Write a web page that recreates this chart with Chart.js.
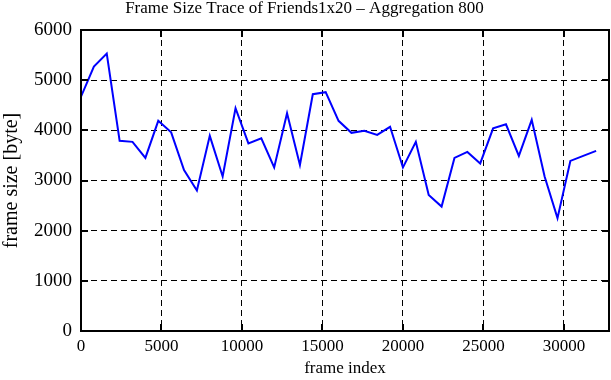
<!DOCTYPE html>
<html>
<head>
<meta charset="utf-8">
<script src="https://cdn.jsdelivr.net/npm/chart.js@4"></script>
<style>
  html, body { margin: 0; padding: 0; background: #fff; }
  #wrap { width: 611px; height: 380px; }
</style>
</head>
<body>
<div id="wrap"><canvas id="traceChart" width="611" height="380"></canvas></div>
<script>
const frameIndex = [
  0, 800, 1600, 2400, 3200, 4000, 4800, 5600, 6400, 7200,
  8000, 8800, 9600, 10400, 11200, 12000, 12800, 13600, 14400, 15200,
  16000, 16800, 17600, 18400, 19200, 20000, 20800, 21600, 22400, 23200,
  24000, 24800, 25600, 26400, 27200, 28000, 28800, 29600, 30400, 31200,
  32000
];
const frameSize = [
  4670, 5270, 5530, 3790, 3770, 3450, 4190, 3960, 3210, 2800,
  3890, 3080, 4440, 3740, 3840, 3260, 4340, 3310, 4720, 4760,
  4190, 3950, 3990, 3910, 4070, 3260, 3770, 2710, 2480, 3450,
  3570, 3340, 4040, 4120, 3490, 4210, 3080, 2250, 3390, 3490,
  3590
];
const xTicks = [0, 5000, 10000, 15000, 20000, 25000, 30000];
const yTicks = [0, 1000, 2000, 3000, 4000, 5000, 6000];

const serif = 'Liberation Serif, Times New Roman, serif';

// gnuplot-like box: solid frame with short inward ticks on all four sides
const framePlugin = {
  id: 'frame',
  afterDraw(chart) {
    const {ctx, chartArea: a, scales} = chart;
    const tick = 7;
    ctx.save();
    ctx.strokeStyle = '#000';
    ctx.lineWidth = 2;
    ctx.beginPath();
    scales.x.ticks.forEach(t => {
      const px = Math.round(scales.x.getPixelForValue(t.value));
      ctx.moveTo(px, a.bottom); ctx.lineTo(px, a.bottom - tick);
      ctx.moveTo(px, a.top); ctx.lineTo(px, a.top + tick);
    });
    scales.y.ticks.forEach(t => {
      const py = Math.round(scales.y.getPixelForValue(t.value));
      ctx.moveTo(a.left, py); ctx.lineTo(a.left + tick, py);
      ctx.moveTo(a.right, py); ctx.lineTo(a.right - tick, py);
    });
    ctx.stroke();
    ctx.strokeRect(a.left, a.top, a.right - a.left, a.bottom - a.top);
    ctx.restore();
  }
};

const traceData = {
  datasets: [{
    data: frameIndex.map((x, i) => ({x: x, y: frameSize[i]})),
    borderColor: '#0000ff',
    backgroundColor: '#0000ff',
    borderWidth: 2,
    pointRadius: 0,
    tension: 0,
    fill: false
  }]
};

const traceOptions = {
  responsive: false,
  animation: false,
  layout: {padding: {left: 0, right: 2, top: 0, bottom: 0}},
  plugins: {
    legend: {display: false},
    tooltip: {enabled: false},
    title: {
      display: true,
      text: 'Frame Size Trace of Friends1x20 \u2013 Aggregation 800',
      color: '#000',
      font: {family: serif, size: 17, weight: 'normal', lineHeight: 1},
      padding: {top: 0, bottom: 13}
    }
  },
  scales: {
    x: {
      type: 'linear',
      min: 0,
      max: 32800,
      afterBuildTicks: scale => { scale.ticks = xTicks.map(v => ({value: v})); },
      afterFit: scale => { scale.height = 49; },
      ticks: {
        color: '#000',
        padding: 5,
        maxRotation: 0,
        autoSkip: false,
        font: {family: serif, size: 17},
        callback: v => String(v)
      },
      grid: {color: '#000', lineWidth: 1, drawTicks: false},
      border: {display: false, dash: [6, 4]},
      title: {
        display: true,
        text: 'frame index',
        color: '#000',
        font: {family: serif, size: 17},
        padding: {top: 0, bottom: 1}
      }
    },
    y: {
      min: 0,
      max: 6000,
      afterBuildTicks: scale => { scale.ticks = yTicks.map(v => ({value: v})); },
      afterFit: scale => { scale.width = 81; },
      ticks: {
        color: '#000',
        padding: 9,
        autoSkip: false,
        font: {family: serif, size: 19},
        callback: v => String(v)
      },
      grid: {color: '#000', lineWidth: 1, drawTicks: false},
      border: {display: false, dash: [6, 4]},
      title: {
        display: true,
        text: 'frame size [byte]',
        color: '#000',
        font: {family: serif, size: 20},
        padding: 0
      }
    }
  }
};

const traceChart = new Chart(document.getElementById('traceChart').getContext('2d'), {
  type: 'line',
  data: traceData,
  options: traceOptions,
  plugins: [framePlugin]
});
</script>
</body>
</html>
